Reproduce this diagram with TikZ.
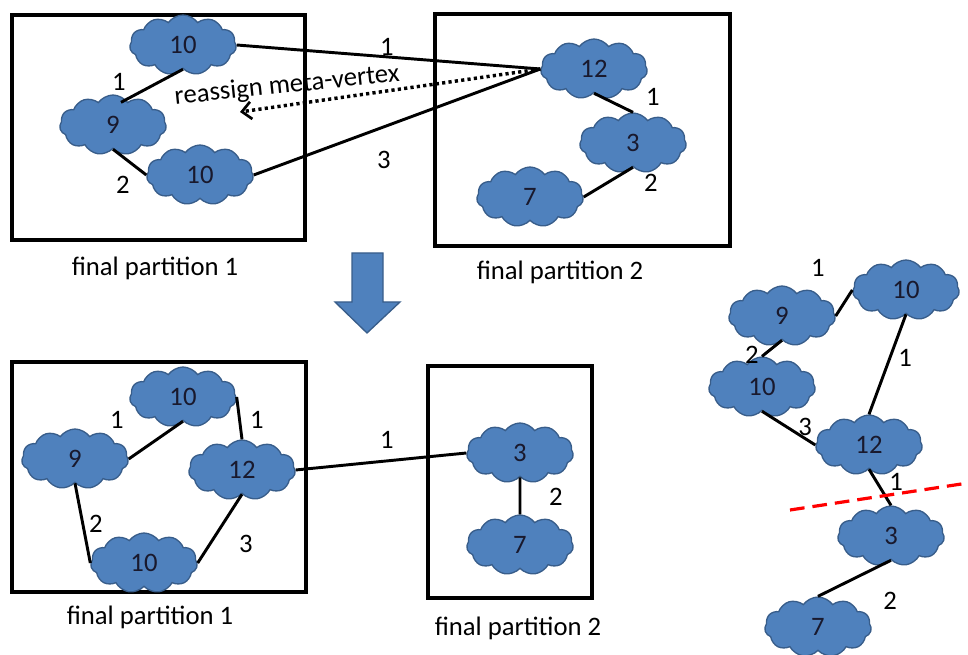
\documentclass[tikz,border=0pt]{standalone}
\usepackage{fontspec}
\setmainfont{Carlito}
\usetikzlibrary{arrows.meta,shapes.symbols}
\definecolor{cloudblue}{RGB}{79,129,189}
\definecolor{cloudedge}{RGB}{56,93,138}
\definecolor{cloudtext}{RGB}{25,25,45}
\tikzset{
  >=Stealth,
  meta/.style={cloud, cloud puffs=11, cloud puff arc=110, cloud ignores aspect, draw=cloudedge, line width=1pt, fill=cloudblue, inner sep=0pt, minimum width=80pt, minimum height=45pt, text=cloudtext, font=\fontsize{20}{24}\selectfont},
  part/.style={draw, line width=3pt},
  link/.style={line width=2.2pt},
  lbl/.style={font=\fontsize{20}{24}\selectfont, inner sep=0pt},
  cut/.style={red, line width=2.4pt, dash pattern=on 11pt off 6pt}
}
\begin{document}
\begin{tikzpicture}[x=0.75pt,y=-0.75pt]
    \useasboundingbox (0,0) rectangle (968,655);

    % === Top: before reassignment ===
    \draw[part] (12,15) rectangle (305,240);
    \draw[part] (435,14) rectangle (730,246);
    \node[lbl] (p1a) at (155,268) {final partition 1};
    \node[lbl] (p2a) at (560,272) {final partition 2};

    \node[meta] (a10) at (183,45) {10};
    \node[meta] (a9) at (113,125) {9};
    \node[meta] (b10) at (200,175) {10};
    \node[meta] (a12) at (594,69) {12};
    \node[meta] (a3) at (633,143) {3};
    \node[meta] (a7) at (530,197) {7};

    \draw[link] (a10.south) -- ([xshift=6pt,yshift=-6pt]a9.north);
    \draw[link] (a9.south) -- (b10.west);
    \draw[link] (a10.east) -- (a12.west);
    \draw[link] (b10.east) -- (a12.west);
    \draw[link] (a12.south) -- (a3.north);
    \draw[link] (a3.south) -- (a7.east);

    % dotted move arrow
    \coordinate (dst) at (240,112);
    \draw[line width=2.6pt, dash pattern=on 2.4pt off 2.4pt, -{Straight Barb[length=7pt,width=13pt,line width=2pt]}] (a12.west) -- (dst);
    \node[lbl, rotate=6] (mv) at (287,86) {reassign meta-vertex};

    \foreach \n/\x/\y/\t in {la1/119/82/1, la2/123/185/2, la3/387/47/1, la4/384/160/3, la5/653/97/1, la6/651/183/2}
        \node[lbl] (\n) at (\x,\y) {\t};

    % === Arrow down ===
    \filldraw[fill=cloudblue, draw=cloudedge, line width=1pt] (352,253) -- (383,253) -- (383,302) -- (400,302) -- (367,333) -- (335,302) -- (352,302) -- cycle;

    % === Bottom: after reassignment ===
    \draw[part] (12,362) rectangle (306,592);
    \draw[part] (428,366) rectangle (592,598);
    \node[lbl] (p1b) at (150,617) {final partition 1};
    \node[lbl] (p2b) at (518,628) {final partition 2};

    \node[meta] (c10) at (183,397) {10};
    \node[meta] (c9) at (75,459) {9};
    \node[meta] (c12) at (242,470) {12};
    \node[meta] (d10) at (144,563) {10};
    \node[meta] (c3) at (520,453) {3};
    \node[meta] (c7) at (520,545) {7};

    \draw[link] (c9.east) -- (c10.south);
    \draw[link] (c10.east) -- (c12.north);
    \draw[link] (c9.south) -- (d10.west);
    \draw[link] (c12.south) -- (d10.east);
    \draw[link] (c12.east) -- (c3.west);
    \draw[link] (c3.south) -- (c7.north);

    \foreach \n/\x/\y/\t in {lc1/117/420/1, lc2/257/420/1, lc3/96/524/2, lc4/246/544/3, lc5/387/440/1, lc6/556/497/2}
        \node[lbl] (\n) at (\x,\y) {\t};

    % === Right: chain with cut ===
    \node[meta] (r10) at (906,290) {10};
    \node[meta] (r9) at (782,316) {9};
    \node[meta] (s10) at (762,387) {10};
    \node[meta] (r12) at (869,445) {12};
    \node[meta] (r3) at (891,536) {3};
    \node[meta] (r7) at (818,627) {7};

    \draw[link] (r9.east) -- (r10.west);
    \draw[link] (r10.south) -- (r12.north);
    \draw[link] (r9.south) -- (s10.north);
    \draw[link] (s10.south) -- (r12.west);
    \draw[link] (r12.south) -- (r3.north);
    \draw[link] (r3.south) -- (r7.north);

    \foreach \n/\x/\y/\t in {lr1/818/268/1, lr2/905/358/1, lr3/752/355/2, lr4/805/427/3, lr5/896/482/1, lr6/890/601/2}
        \node[lbl] (\n) at (\x,\y) {\t};

    \draw[cut] (790,510) -- (968,483);

\end{tikzpicture}
\end{document}
